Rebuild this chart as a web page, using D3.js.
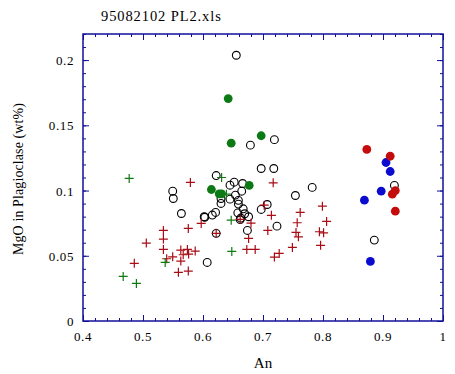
<!DOCTYPE html>
<html><head><meta charset="utf-8">
<script src="https://cdn.jsdelivr.net/npm/d3@7"></script>
<style>body{margin:0;background:#fff}svg{display:block}text{font-family:"Liberation Serif","Times New Roman",serif;fill:#000}</style>
</head><body>
<script>
const title = "95082102 PL2.xls";
const xLabel = "An";
const yLabel = "MgO in Plagioclase (wt%)";
const xTicks = [0.4,0.5,0.6,0.7,0.8,0.9,1];
const xTickLabels = ["0.4","0.5","0.6","0.7","0.8","0.9","1"];
const yTicks = [0,0.05,0.1,0.15,0.2];
const yTickLabels = ["0","0.05","0.1","0.15","0.2"];

// open black circles [An, MgO]
const openCircles = [[0.5495,0.0995],[0.5505,0.0939],[0.564,0.0824],[0.602,0.0799],[0.603,0.0795],[0.6155,0.0812],[0.621,0.0832],[0.622,0.0672],[0.607,0.0449],[0.622,0.1115],[0.630,0.0939],[0.630,0.0901],[0.645,0.1041],[0.652,0.1064],[0.666,0.1054],[0.645,0.0934],[0.654,0.0965],[0.6645,0.0995],[0.659,0.0896],[0.658,0.0829],[0.667,0.086],[0.6695,0.0822],[0.663,0.0789],[0.676,0.0799],[0.674,0.0694],[0.679,0.1348],[0.697,0.1169],[0.718,0.1169],[0.719,0.139],[0.697,0.0855],[0.707,0.0893],[0.7233,0.0727],[0.6555,0.2037],[0.754,0.0962],[0.782,0.1024],[0.919,0.1039],[0.8855,0.062],[0.662,0.0778],[0.659,0.0925]];
const greenDots = [[0.642,0.1705],[0.647,0.1363],[0.697,0.142],[0.614,0.1008],[0.627,0.0975],[0.631,0.0975],[0.677,0.1039]];
const greenPlus = [[0.477,0.1093],[0.631,0.110],[0.639,0.0972],[0.647,0.0773],[0.648,0.0533],[0.537,0.0449],[0.467,0.0342],[0.489,0.0288]];
const blueDots = [[0.869,0.0926],[0.897,0.0995],[0.905,0.1215],[0.912,0.1146],[0.879,0.0457]];
const redDots = [[0.873,0.1315],[0.912,0.1263],[0.9155,0.0972],[0.9205,0.1],[0.9205,0.0842]];
const redPlus = [[0.799,0.088],[0.762,0.0832],[0.806,0.0763],[0.757,0.0753],[0.755,0.0679],[0.759,0.0645],[0.794,0.0684],[0.801,0.0676],[0.749,0.0564],[0.796,0.058],[0.719,0.049],[0.727,0.0518],[0.714,0.081],[0.702,0.0888],[0.717,0.1059],[0.708,0.0694],[0.680,0.075],[0.676,0.0633],[0.673,0.0549],[0.687,0.0549],[0.662,0.0779],[0.622,0.0672],[0.597,0.0748],[0.5755,0.071],[0.5755,0.0383],[0.559,0.0373],[0.579,0.1062],[0.534,0.0694],[0.534,0.0628],[0.5055,0.0597],[0.534,0.0549],[0.563,0.0544],[0.574,0.0549],[0.587,0.0536],[0.4855,0.0442],[0.5495,0.0492],[0.5395,0.0477],[0.563,0.0459],[0.567,0.0508],[0.576,0.0513]];

const W = 455, H = 374;
const L = 83, R = 443, T = 34, B = 321;
const svg = d3.select("body").append("svg").attr("width", W).attr("height", H);
const x = d3.scaleLinear().domain([0.4, 1]).range([L, R]);
const y = d3.scaleLinear().domain([0, 0.22]).range([B, T]);
const axisCol = "#10109a";

const g = svg.append("g");
function fmtNone(){return "";}
const xMinor = d3.range(0.4, 1.0001, 0.02);
const yMinor = d3.range(0, 0.2201, 0.01);
function addAxis(axis, tr){
  const a = g.append("g").attr("transform", tr).call(axis);
  a.select(".domain").remove();
  a.selectAll("line").attr("stroke", axisCol).attr("stroke-width", 1);
  a.selectAll("text").remove();
}
addAxis(d3.axisBottom(x).tickValues(xMinor).tickSize(-3).tickFormat(fmtNone), `translate(0,${B})`);
addAxis(d3.axisBottom(x).tickValues(xTicks).tickSize(-6).tickFormat(fmtNone), `translate(0,${B})`);
addAxis(d3.axisTop(x).tickValues(xMinor).tickSize(-3).tickFormat(fmtNone), `translate(0,${T})`);
addAxis(d3.axisTop(x).tickValues(xTicks).tickSize(-6).tickFormat(fmtNone), `translate(0,${T})`);
addAxis(d3.axisLeft(y).tickValues(yMinor).tickSize(-3).tickFormat(fmtNone), `translate(${L},0)`);
addAxis(d3.axisLeft(y).tickValues(yTicks).tickSize(-6).tickFormat(fmtNone), `translate(${L},0)`);
addAxis(d3.axisRight(y).tickValues(yMinor).tickSize(-3).tickFormat(fmtNone), `translate(${R},0)`);
addAxis(d3.axisRight(y).tickValues(yTicks).tickSize(-6).tickFormat(fmtNone), `translate(${R},0)`);

g.append("rect").attr("x", L).attr("y", T).attr("width", R - L).attr("height", B - T)
  .attr("fill", "none").attr("stroke", axisCol).attr("stroke-width", 1.5);

// tick labels
svg.selectAll(".xl").data(xTicks).enter().append("text")
  .attr("x", d => x(d)).attr("y", B + 20).attr("text-anchor", "middle")
  .style("font-size", "13px").style("letter-spacing", "0.6px").text((d, i) => xTickLabels[i]);
svg.selectAll(".yl").data(yTicks).enter().append("text")
  .attr("x", L - 9).attr("y", d => y(d) + 5).attr("text-anchor", "end")
  .style("font-size", "13px").style("letter-spacing", "0.6px").text((d, i) => yTickLabels[i]);

svg.append("text").attr("x", 101).attr("y", 21).style("font-size", "14.5px").style("letter-spacing", "0.9px").text(title);
svg.append("text").attr("x", (L + R) / 2).attr("y", 368).attr("text-anchor", "middle").style("font-size", "15px").text(xLabel);
svg.append("text").attr("transform", `translate(23,179) rotate(-90)`).attr("text-anchor", "middle").style("font-size", "14px").style("letter-spacing", "0.1px").text(yLabel);

const pts = svg.append("g");
pts.selectAll(".oc").data(openCircles).enter().append("circle")
  .attr("cx", d => x(d[0])).attr("cy", d => y(d[1])).attr("r", 3.9)
  .attr("fill", "none").attr("stroke", "#000").attr("stroke-width", 1.1);
function plus(data, col){
  const s = 4.5;
  pts.selectAll(null).data(data).enter().append("path")
    .attr("d", d => `M${x(d[0]) - s},${y(d[1])}H${x(d[0]) + s}M${x(d[0])},${y(d[1]) - s}V${y(d[1]) + s}`)
    .attr("stroke", col).attr("stroke-width", 1.2).attr("fill", "none");
}
function dots(data, col){
  pts.selectAll(null).data(data).enter().append("circle")
    .attr("cx", d => x(d[0])).attr("cy", d => y(d[1])).attr("r", 4.4)
    .attr("fill", col);
}
plus(redPlus, "#a80c14");
plus(greenPlus, "#127a12");
dots(greenDots, "#0c7a14");
dots(blueDots, "#0b0bd0");
dots(redDots, "#c40c0c");
</script>
</body></html>
